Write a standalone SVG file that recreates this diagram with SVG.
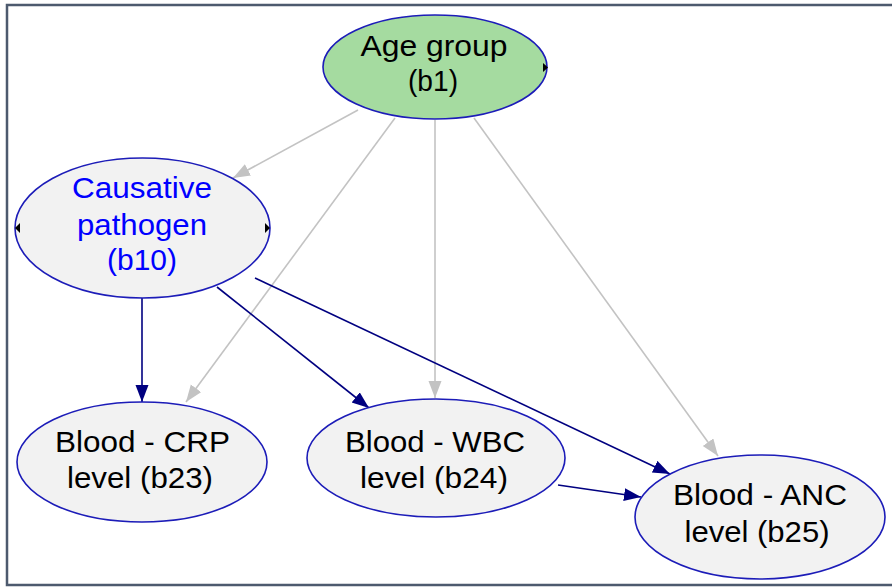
<svg xmlns="http://www.w3.org/2000/svg" width="892" height="587" viewBox="0 0 892 587">
<style>
.node ellipse{stroke:#1c1cb8;stroke-width:1.6}
.plain{fill:#f2f2f2}
.green{fill:#a5dba0}
text{font-family:"Liberation Sans",Arial,sans-serif;font-size:29px;text-anchor:middle;fill:#000}
.blue{fill:#0000ff}
.g{stroke:#c3c3c3;stroke-width:1.6;fill:none;marker-end:url(#ag)}
.n{stroke:#000080;stroke-width:1.6;fill:none;marker-end:url(#an)}
.tri{fill:#000}
</style>
<defs>
<marker id="ag" markerUnits="userSpaceOnUse" markerWidth="19" markerHeight="14" refX="17" refY="6.5" orient="auto"><path d="M0,0 L17,6.5 L0,13 z" fill="#c3c3c3"/></marker>
<marker id="an" markerUnits="userSpaceOnUse" markerWidth="19" markerHeight="14" refX="17" refY="6.5" orient="auto"><path d="M0,0 L17,6.5 L0,13 z" fill="#000080"/></marker>
</defs>
<rect width="892" height="587" fill="#fff"/>
<path d="M900 5 H7 V585 H900" fill="none" stroke="#4d5a6e" stroke-width="2.5"/>
<g id="edges">
<line class="g" x1="358" y1="110" x2="233" y2="178"/>
<line class="g" x1="395" y1="118" x2="186" y2="402"/>
<line class="g" x1="435" y1="120" x2="435" y2="398"/>
<line class="g" x1="474" y1="118" x2="718" y2="456"/>
<line class="n" x1="142" y1="298" x2="142" y2="402"/>
<line class="n" x1="217" y1="287" x2="369" y2="408"/>
<line class="n" x1="255" y1="278" x2="670" y2="474"/>
<line class="n" x1="558" y1="485" x2="641" y2="497"/>
</g>
<g id="b1" class="node">
<ellipse class="green" cx="435" cy="67" rx="112" ry="52"/>
<polygon class="tri" points="543,63 548,67.5 543,72"/>
<text x="434" y="56" textLength="147" lengthAdjust="spacingAndGlyphs">Age group</text>
<text x="433" y="91" textLength="50" lengthAdjust="spacingAndGlyphs">(b1)</text>
</g>
<g id="b10" class="node">
<ellipse class="plain" cx="142.5" cy="228" rx="127.5" ry="70"/>
<polygon class="tri" points="20,223 15,228 20,233"/>
<polygon class="tri" points="265,223 270,228 265,233"/>
<text class="blue" x="142" y="198" textLength="140" lengthAdjust="spacingAndGlyphs">Causative</text>
<text class="blue" x="142" y="235" textLength="130" lengthAdjust="spacingAndGlyphs">pathogen</text>
<text class="blue" x="142" y="270" textLength="70" lengthAdjust="spacingAndGlyphs">(b10)</text>
</g>
<g id="b23" class="node">
<ellipse class="plain" cx="142" cy="462" rx="125" ry="60"/>
<text x="142.5" y="452" textLength="175" lengthAdjust="spacingAndGlyphs">Blood - CRP</text>
<text x="140" y="488" textLength="146" lengthAdjust="spacingAndGlyphs">level (b23)</text>
</g>
<g id="b24" class="node">
<ellipse class="plain" cx="436" cy="458" rx="129" ry="59"/>
<text x="435" y="452" textLength="180" lengthAdjust="spacingAndGlyphs">Blood - WBC</text>
<text x="434" y="488" textLength="148" lengthAdjust="spacingAndGlyphs">level (b24)</text>
</g>
<g id="b25" class="node">
<ellipse class="plain" cx="760" cy="517" rx="125" ry="62"/>
<text x="760" y="505" textLength="174" lengthAdjust="spacingAndGlyphs">Blood - ANC</text>
<text x="757" y="542" textLength="145" lengthAdjust="spacingAndGlyphs">level (b25)</text>
</g>
</svg>
